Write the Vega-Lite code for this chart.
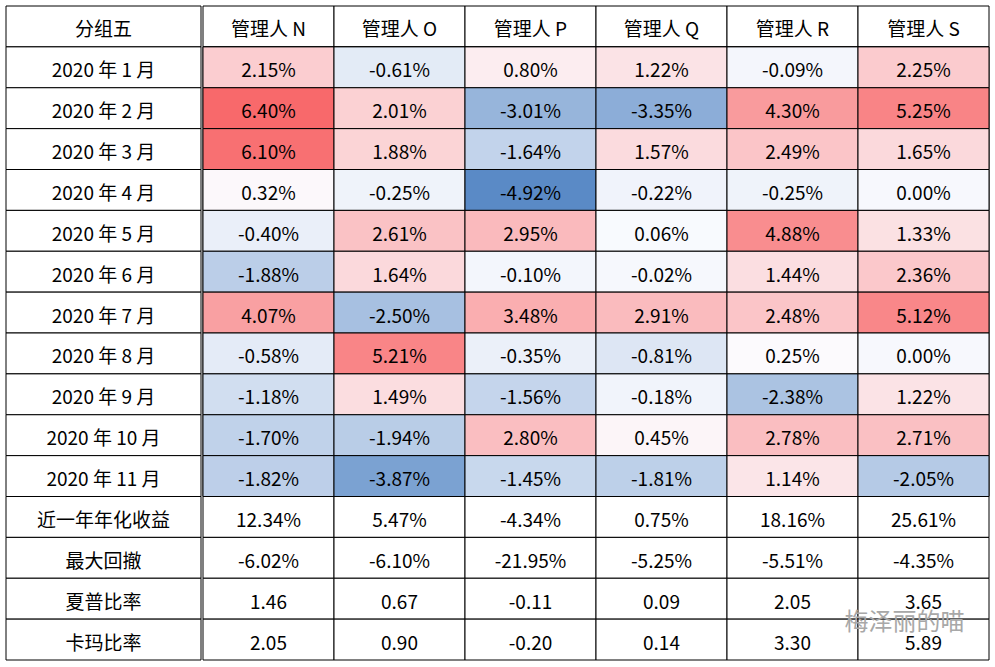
{
  "$schema": "https://vega.github.io/schema/vega-lite/v6.json",
  "background": "white",
  "padding": {"left": 5, "top": 5, "right": 5, "bottom": 5},
  "spacing": 0,
  "config": {"view": {"stroke": null}, "font": "Noto Sans CJK SC", "concat": {"spacing": 0}},
  "datasets": {
    "rows": [
      {"r": "分组五"}, {"r": "2020 年 1 月"}, {"r": "2020 年 2 月"}, {"r": "2020 年 3 月"}, {"r": "2020 年 4 月"},
      {"r": "2020 年 5 月"}, {"r": "2020 年 6 月"}, {"r": "2020 年 7 月"}, {"r": "2020 年 8 月"}, {"r": "2020 年 9 月"},
      {"r": "2020 年 10 月"}, {"r": "2020 年 11 月"}, {"r": "近一年年化收益"}, {"r": "最大回撤"}, {"r": "夏普比率"}, {"r": "卡玛比率"}
    ],
    "cells": [
      {"r": "分组五", "m": "管理人 N", "t": "管理人 N"}, {"r": "分组五", "m": "管理人 O", "t": "管理人 O"}, {"r": "分组五", "m": "管理人 P", "t": "管理人 P"}, {"r": "分组五", "m": "管理人 Q", "t": "管理人 Q"}, {"r": "分组五", "m": "管理人 R", "t": "管理人 R"}, {"r": "分组五", "m": "管理人 S", "t": "管理人 S"},
      {"r": "2020 年 1 月", "m": "管理人 N", "v": 2.15, "t": "2.15%"}, {"r": "2020 年 1 月", "m": "管理人 O", "v": -0.61, "t": "-0.61%"}, {"r": "2020 年 1 月", "m": "管理人 P", "v": 0.80, "t": "0.80%"}, {"r": "2020 年 1 月", "m": "管理人 Q", "v": 1.22, "t": "1.22%"}, {"r": "2020 年 1 月", "m": "管理人 R", "v": -0.09, "t": "-0.09%"}, {"r": "2020 年 1 月", "m": "管理人 S", "v": 2.25, "t": "2.25%"},
      {"r": "2020 年 2 月", "m": "管理人 N", "v": 6.40, "t": "6.40%"}, {"r": "2020 年 2 月", "m": "管理人 O", "v": 2.01, "t": "2.01%"}, {"r": "2020 年 2 月", "m": "管理人 P", "v": -3.01, "t": "-3.01%"}, {"r": "2020 年 2 月", "m": "管理人 Q", "v": -3.35, "t": "-3.35%"}, {"r": "2020 年 2 月", "m": "管理人 R", "v": 4.30, "t": "4.30%"}, {"r": "2020 年 2 月", "m": "管理人 S", "v": 5.25, "t": "5.25%"},
      {"r": "2020 年 3 月", "m": "管理人 N", "v": 6.10, "t": "6.10%"}, {"r": "2020 年 3 月", "m": "管理人 O", "v": 1.88, "t": "1.88%"}, {"r": "2020 年 3 月", "m": "管理人 P", "v": -1.64, "t": "-1.64%"}, {"r": "2020 年 3 月", "m": "管理人 Q", "v": 1.57, "t": "1.57%"}, {"r": "2020 年 3 月", "m": "管理人 R", "v": 2.49, "t": "2.49%"}, {"r": "2020 年 3 月", "m": "管理人 S", "v": 1.65, "t": "1.65%"},
      {"r": "2020 年 4 月", "m": "管理人 N", "v": 0.32, "t": "0.32%"}, {"r": "2020 年 4 月", "m": "管理人 O", "v": -0.25, "t": "-0.25%"}, {"r": "2020 年 4 月", "m": "管理人 P", "v": -4.92, "t": "-4.92%"}, {"r": "2020 年 4 月", "m": "管理人 Q", "v": -0.22, "t": "-0.22%"}, {"r": "2020 年 4 月", "m": "管理人 R", "v": -0.25, "t": "-0.25%"}, {"r": "2020 年 4 月", "m": "管理人 S", "v": 0.00, "t": "0.00%"},
      {"r": "2020 年 5 月", "m": "管理人 N", "v": -0.40, "t": "-0.40%"}, {"r": "2020 年 5 月", "m": "管理人 O", "v": 2.61, "t": "2.61%"}, {"r": "2020 年 5 月", "m": "管理人 P", "v": 2.95, "t": "2.95%"}, {"r": "2020 年 5 月", "m": "管理人 Q", "v": 0.06, "t": "0.06%"}, {"r": "2020 年 5 月", "m": "管理人 R", "v": 4.88, "t": "4.88%"}, {"r": "2020 年 5 月", "m": "管理人 S", "v": 1.33, "t": "1.33%"},
      {"r": "2020 年 6 月", "m": "管理人 N", "v": -1.88, "t": "-1.88%"}, {"r": "2020 年 6 月", "m": "管理人 O", "v": 1.64, "t": "1.64%"}, {"r": "2020 年 6 月", "m": "管理人 P", "v": -0.10, "t": "-0.10%"}, {"r": "2020 年 6 月", "m": "管理人 Q", "v": -0.02, "t": "-0.02%"}, {"r": "2020 年 6 月", "m": "管理人 R", "v": 1.44, "t": "1.44%"}, {"r": "2020 年 6 月", "m": "管理人 S", "v": 2.36, "t": "2.36%"},
      {"r": "2020 年 7 月", "m": "管理人 N", "v": 4.07, "t": "4.07%"}, {"r": "2020 年 7 月", "m": "管理人 O", "v": -2.50, "t": "-2.50%"}, {"r": "2020 年 7 月", "m": "管理人 P", "v": 3.48, "t": "3.48%"}, {"r": "2020 年 7 月", "m": "管理人 Q", "v": 2.91, "t": "2.91%"}, {"r": "2020 年 7 月", "m": "管理人 R", "v": 2.48, "t": "2.48%"}, {"r": "2020 年 7 月", "m": "管理人 S", "v": 5.12, "t": "5.12%"},
      {"r": "2020 年 8 月", "m": "管理人 N", "v": -0.58, "t": "-0.58%"}, {"r": "2020 年 8 月", "m": "管理人 O", "v": 5.21, "t": "5.21%"}, {"r": "2020 年 8 月", "m": "管理人 P", "v": -0.35, "t": "-0.35%"}, {"r": "2020 年 8 月", "m": "管理人 Q", "v": -0.81, "t": "-0.81%"}, {"r": "2020 年 8 月", "m": "管理人 R", "v": 0.25, "t": "0.25%"}, {"r": "2020 年 8 月", "m": "管理人 S", "v": 0.00, "t": "0.00%"},
      {"r": "2020 年 9 月", "m": "管理人 N", "v": -1.18, "t": "-1.18%"}, {"r": "2020 年 9 月", "m": "管理人 O", "v": 1.49, "t": "1.49%"}, {"r": "2020 年 9 月", "m": "管理人 P", "v": -1.56, "t": "-1.56%"}, {"r": "2020 年 9 月", "m": "管理人 Q", "v": -0.18, "t": "-0.18%"}, {"r": "2020 年 9 月", "m": "管理人 R", "v": -2.38, "t": "-2.38%"}, {"r": "2020 年 9 月", "m": "管理人 S", "v": 1.22, "t": "1.22%"},
      {"r": "2020 年 10 月", "m": "管理人 N", "v": -1.70, "t": "-1.70%"}, {"r": "2020 年 10 月", "m": "管理人 O", "v": -1.94, "t": "-1.94%"}, {"r": "2020 年 10 月", "m": "管理人 P", "v": 2.80, "t": "2.80%"}, {"r": "2020 年 10 月", "m": "管理人 Q", "v": 0.45, "t": "0.45%"}, {"r": "2020 年 10 月", "m": "管理人 R", "v": 2.78, "t": "2.78%"}, {"r": "2020 年 10 月", "m": "管理人 S", "v": 2.71, "t": "2.71%"},
      {"r": "2020 年 11 月", "m": "管理人 N", "v": -1.82, "t": "-1.82%"}, {"r": "2020 年 11 月", "m": "管理人 O", "v": -3.87, "t": "-3.87%"}, {"r": "2020 年 11 月", "m": "管理人 P", "v": -1.45, "t": "-1.45%"}, {"r": "2020 年 11 月", "m": "管理人 Q", "v": -1.81, "t": "-1.81%"}, {"r": "2020 年 11 月", "m": "管理人 R", "v": 1.14, "t": "1.14%"}, {"r": "2020 年 11 月", "m": "管理人 S", "v": -2.05, "t": "-2.05%"},
      {"r": "近一年年化收益", "m": "管理人 N", "t": "12.34%"}, {"r": "近一年年化收益", "m": "管理人 O", "t": "5.47%"}, {"r": "近一年年化收益", "m": "管理人 P", "t": "-4.34%"}, {"r": "近一年年化收益", "m": "管理人 Q", "t": "0.75%"}, {"r": "近一年年化收益", "m": "管理人 R", "t": "18.16%"}, {"r": "近一年年化收益", "m": "管理人 S", "t": "25.61%"},
      {"r": "最大回撤", "m": "管理人 N", "t": "-6.02%"}, {"r": "最大回撤", "m": "管理人 O", "t": "-6.10%"}, {"r": "最大回撤", "m": "管理人 P", "t": "-21.95%"}, {"r": "最大回撤", "m": "管理人 Q", "t": "-5.25%"}, {"r": "最大回撤", "m": "管理人 R", "t": "-5.51%"}, {"r": "最大回撤", "m": "管理人 S", "t": "-4.35%"},
      {"r": "夏普比率", "m": "管理人 N", "t": "1.46"}, {"r": "夏普比率", "m": "管理人 O", "t": "0.67"}, {"r": "夏普比率", "m": "管理人 P", "t": "-0.11"}, {"r": "夏普比率", "m": "管理人 Q", "t": "0.09"}, {"r": "夏普比率", "m": "管理人 R", "t": "2.05"}, {"r": "夏普比率", "m": "管理人 S", "t": "3.65"},
      {"r": "卡玛比率", "m": "管理人 N", "t": "2.05"}, {"r": "卡玛比率", "m": "管理人 O", "t": "0.90"}, {"r": "卡玛比率", "m": "管理人 P", "t": "-0.20"}, {"r": "卡玛比率", "m": "管理人 Q", "t": "0.14"}, {"r": "卡玛比率", "m": "管理人 R", "t": "3.30"}, {"r": "卡玛比率", "m": "管理人 S", "t": "5.89"}
    ]
  },
  "hconcat": [
    {
      "width": 195,
      "height": 654,
      "data": {"name": "rows"},
      "encoding": {
        "y": {"field": "r", "type": "ordinal", "axis": null,
          "sort": ["分组五", "2020 年 1 月", "2020 年 2 月", "2020 年 3 月", "2020 年 4 月", "2020 年 5 月", "2020 年 6 月", "2020 年 7 月", "2020 年 8 月", "2020 年 9 月", "2020 年 10 月", "2020 年 11 月", "近一年年化收益", "最大回撤", "夏普比率", "卡玛比率"],
          "scale": {"paddingInner": 0, "paddingOuter": 0}}
      },
      "layer": [
        {"mark": {"type": "rect", "fill": "white", "stroke": "black", "strokeWidth": 1}},
        {"mark": {"type": "text", "fontSize": 19, "color": "black", "dy": 4, "align": "center"}, "encoding": {"text": {"field": "r"}}}
      ]
    },
    {
      "width": 786,
      "height": 654,
      "data": {"name": "cells"},
      "encoding": {
        "x": {"field": "m", "type": "nominal", "axis": null,
          "sort": ["管理人 N", "管理人 O", "管理人 P", "管理人 Q", "管理人 R", "管理人 S"],
          "scale": {"paddingInner": 0, "paddingOuter": 0}},
        "y": {"field": "r", "type": "ordinal", "axis": null,
          "sort": ["分组五", "2020 年 1 月", "2020 年 2 月", "2020 年 3 月", "2020 年 4 月", "2020 年 5 月", "2020 年 6 月", "2020 年 7 月", "2020 年 8 月", "2020 年 9 月", "2020 年 10 月", "2020 年 11 月", "近一年年化收益", "最大回撤", "夏普比率", "卡玛比率"],
          "scale": {"paddingInner": 0, "paddingOuter": 0}}
      },
      "layer": [
        {"mark": {"type": "rect", "fill": "white", "stroke": "black", "strokeWidth": 1}},
        {
          "transform": [{"filter": "datum.v != null"}],
          "mark": {"type": "rect", "stroke": "black", "strokeWidth": 1},
          "encoding": {
            "fill": {"field": "v", "type": "quantitative", "legend": null,
              "scale": {"type": "linear", "domain": [-4.92, 0.17, 6.40], "range": ["#5A8AC6", "#FCFCFF", "#F8696B"], "interpolate": "rgb"}}
          }
        },
        {"mark": {"type": "text", "fontSize": 19, "color": "black", "dy": 4}, "encoding": {"text": {"field": "t"}}},
        {
          "data": {"values": [{"w": "梅泽丽的喵"}]},
          "mark": {"type": "text", "fontSize": 24, "color": "#a8a8a8", "dx": -19, "dy": 24},
          "encoding": {"text": {"field": "w"}, "x": {"datum": "管理人 S"}, "y": {"datum": "夏普比率"}}
        }
      ]
    }
  ]
}
